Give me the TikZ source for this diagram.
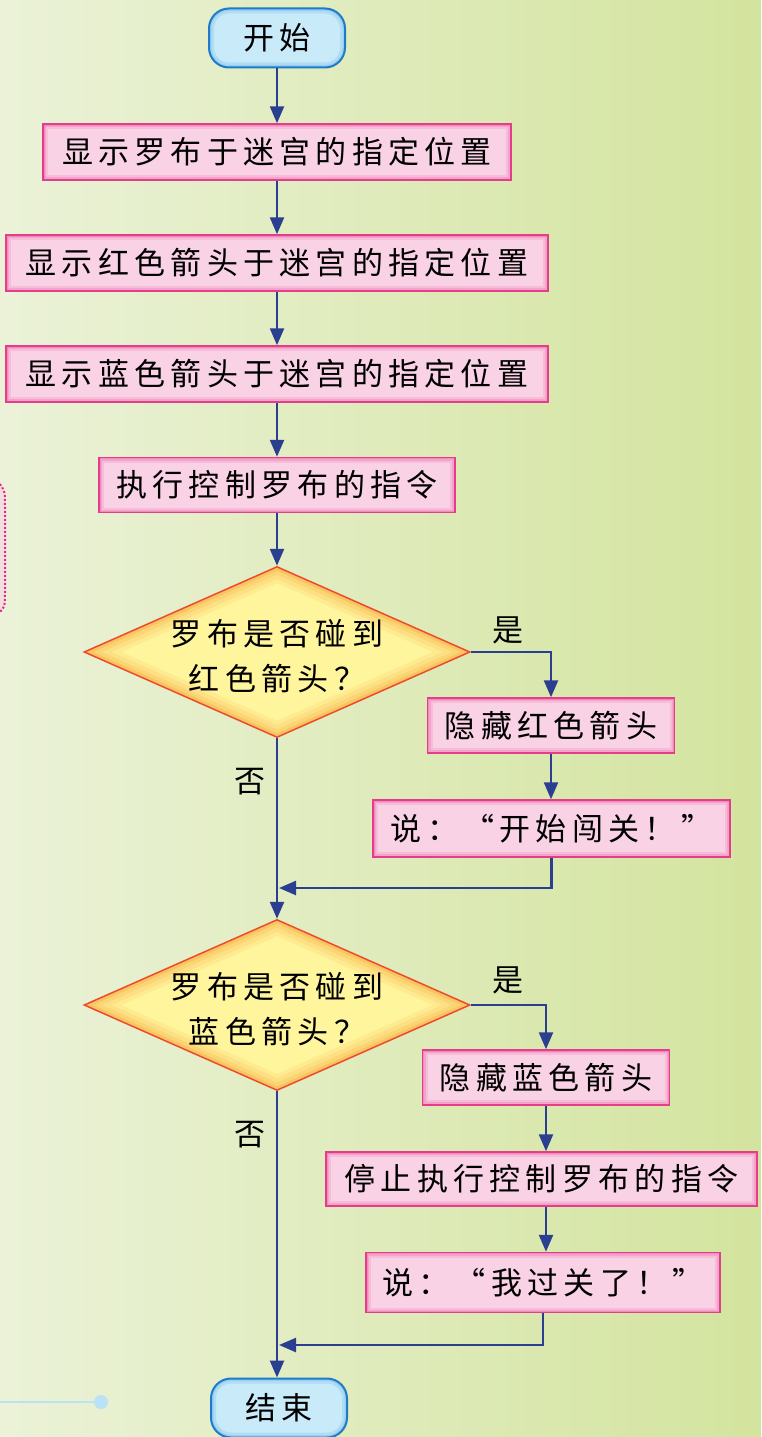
\documentclass[tikz,border=0pt]{standalone}
\usepackage{fontspec}
\newfontfamily\cjkfont[LetterSpace=17]{Noto Sans CJK SC}
\usetikzlibrary{shapes.geometric,arrows.meta}
\definecolor{bgL}{HTML}{EBF2D8}
\definecolor{bgR}{HTML}{D3E49E}
\definecolor{pinkF}{HTML}{F9D2E5}
\definecolor{pinkB}{HTML}{E53D8B}
\definecolor{pinkG}{HTML}{EE6FAE}
\definecolor{yelF}{HTML}{FFF59C}
\definecolor{yelG}{HTML}{F7A43C}
\definecolor{redB}{HTML}{EE4A2C}
\definecolor{bluF}{HTML}{C8EAF9}
\definecolor{bluB}{HTML}{1F7BC9}
\definecolor{bluG}{HTML}{6FB9E8}
\definecolor{arrC}{HTML}{2A3F90}
\definecolor{decoB}{HTML}{B9E2F5}
\definecolor{decoP}{HTML}{E8288A}
\newcommand{\dpath}{(path picture bounding box.north) -- (path picture bounding box.east) -- (path picture bounding box.south) -- (path picture bounding box.west) -- cycle}
\tikzset{
  txt/.style={font=\cjkfont\fontsize{31}{45}\selectfont, text=black},
  proc/.style={txt, rectangle, draw=pinkB, line width=1.5pt, fill=pinkF, inner sep=0pt,
    path picture={
      \draw[pinkG, line width=10pt, opacity=.22] (path picture bounding box.south west) rectangle (path picture bounding box.north east);
      \draw[pinkG, line width=6pt, opacity=.30] (path picture bounding box.south west) rectangle (path picture bounding box.north east);
      \draw[pinkG, line width=3pt, opacity=.45] (path picture bounding box.south west) rectangle (path picture bounding box.north east);
    }},
  term/.style={txt, rectangle, rounded corners=20pt, draw=bluB, line width=2pt, fill=bluF,
    minimum width=136pt, minimum height=59pt, inner sep=0pt,
    path picture={
      \draw[bluG, line width=10pt, opacity=.25, rounded corners=20pt] (path picture bounding box.south west) rectangle (path picture bounding box.north east);
      \draw[bluG, line width=5pt, opacity=.35, rounded corners=20pt] (path picture bounding box.south west) rectangle (path picture bounding box.north east);
    }},
  deci/.style={diamond, draw=redB, line width=1.5pt, fill=yelF, inner sep=0pt,
    minimum width=386pt, minimum height=171pt,
    path picture={
      \draw[yelG, line width=30pt, opacity=.12, line join=miter] \dpath;
      \draw[yelG, line width=22pt, opacity=.15, line join=miter] \dpath;
      \draw[yelG, line width=14pt, opacity=.2, line join=miter] \dpath;
      \draw[yelG, line width=7pt, opacity=.3, line join=miter] \dpath;
    }},
  arr/.style={draw=arrC, line width=2.5pt, -{Triangle[length=17pt,width=14pt]}},
  lbl/.style={txt, inner sep=0pt},
}
\begin{document}
\begin{tikzpicture}[x=1pt,y=-1pt]
\shade[left color=bgL, right color=bgR] (0,0) rectangle (761,1437);
\useasboundingbox (0,0) rectangle (761,1437);
% decorations
\fill[pinkF, opacity=.6] (0,484) .. controls (5,492) .. (5,505) -- (5,595) .. controls (5,606) .. (0,612) -- cycle;
\draw[decoP, line width=2pt, dotted] (0,484) .. controls (5,492) .. (5,505) -- (5,595) .. controls (5,606) .. (0,612);
\draw[decoB, line width=2.5pt] (0,1402) -- (95,1402);
\fill[decoB] (101,1402) circle (7);
% nodes
\node[term] (start) at (277,38) {开始};
\node[proc, minimum width=468pt, minimum height=56pt] (b1) at (277,152) {显示罗布于迷宫的指定位置};
\node[proc, minimum width=542pt, minimum height=56pt] (b2) at (277,263) {显示红色箭头于迷宫的指定位置};
\node[proc, minimum width=542pt, minimum height=56pt] (b3) at (277,374) {显示蓝色箭头于迷宫的指定位置};
\node[proc, minimum width=356pt, minimum height=55pt] (b4) at (277,485) {执行控制罗布的指令};
\node[deci] (d1) at (277,652) {};
\node[lbl, align=center] (d1t) at (277,656) {罗布是否碰到\\红色箭头？};
\node[proc, minimum width=247pt, minimum height=55pt] (b5) at (551,725.5) {隐藏红色箭头};
\node[proc, minimum width=357pt, minimum height=57pt] (b6) at (551.5,828.5) {说：“开始闯关！”};
\coordinate (j1) at (279,888);
\node[deci] (d2) at (277,1005) {};
\node[lbl, align=center] (d2t) at (277,1009) {罗布是否碰到\\蓝色箭头？};
\node[proc, minimum width=247pt, minimum height=55pt] (b7) at (546,1077.5) {隐藏蓝色箭头};
\node[proc, minimum width=431pt, minimum height=54pt] (b8) at (541.5,1179) {停止执行控制罗布的指令};
\node[proc, minimum width=354pt, minimum height=60pt] (b9) at (543,1282.5) {说：“我过关了！”};
\coordinate (j2) at (279,1345);
\node[term] (end) at (279,1408) {结束};
% labels
\node[lbl] (y1) at (508,630) {是};
\node[lbl] (n1) at (250,782) {否};
\node[lbl] (y2) at (508,980) {是};
\node[lbl] (n2) at (250,1135) {否};
% connectors
\draw[arr] (start.south) -- (b1.north -| start.south);
\draw[arr] (b1.south) -- (b2.north);
\draw[arr] (b2.south) -- (b3.north);
\draw[arr] (b3.south) -- (b4.north);
\draw[arr] (b4.south) -- (d1.north);
\draw[arr] (d1.east) -| (b5.north);
\draw[arr] (b5.south) -- (b6.north -| b5.south);
\draw[arr] (b6.south) |- (j1);
\draw[arr] (d1.south) -- (d2.north);
\draw[arr] (d2.east) -| (b7.north);
\draw[arr] (b7.south) -- (b8.north -| b7.south);
\draw[arr] (b8.south -| b7.south) -- (b9.north -| b7.south);
\draw[arr] (b9.south) |- (j2);
\draw[arr] (d2.south) -- (end.north -| d2.south);
\end{tikzpicture}
\end{document}
